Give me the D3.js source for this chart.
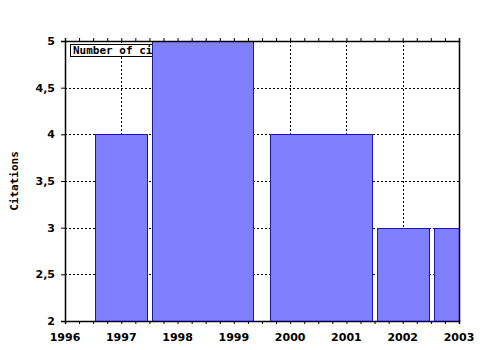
<!DOCTYPE html>
<html>
<head>
<meta charset="utf-8">
<script src="https://cdn.jsdelivr.net/npm/d3@7"></script>
<style>
	body { margin: 0; background: #fff; }
	svg { display: block; }
	.tick-label { font-family: "DejaVu Sans", Verdana, sans-serif; font-weight: bold; font-size: 11px; }
	.mono { font-family: "DejaVu Sans Mono", monospace; font-weight: bold; font-size: 11px; }
</style>
</head>
<body>
<script>
// citations per bin (bins, in years)
const binStart = [1996.53, 1997.55, 1999.64, 2001.54, 2002.555];
const binEnd = [1997.45, 1999.34, 2001.46, 2002.47, 2003.45];
const citations = [4, 5, 4, 3, 3];

const xTicks = [1996, 1997, 1998, 1999, 2000, 2001, 2002, 2003];
const yTicks = [2, 2.5, 3, 3.5, 4, 4.5, 5];
const legendText = "Number of citations";

const W = 480, H = 350;
const plot = { left: 65, right: 459, top: 41, bottom: 321 };

const svg = d3.select('body').append('svg')
	.attr('width', W)
	.attr('height', H);

const x = d3.scaleLinear().domain([1996, 2003]).range([plot.left, plot.right]);
const y = d3.scaleLinear().domain([2, 5]).range([plot.bottom, plot.top]);

svg.append('clipPath').attr('id', 'plotClip')
	.append('rect')
	.attr('x', plot.left).attr('y', plot.top)
	.attr('width', plot.right - plot.left)
	.attr('height', plot.bottom - plot.top);

/* dotted grid */
const grid = svg.append('g')
	.attr('stroke', '#000')
	.attr('stroke-width', 1)
	.attr('stroke-dasharray', '2,2');
grid.selectAll('line.gx')
	.data(xTicks.slice(1, -1))
	.enter().append('line')
	.attr('x1', d => Math.round(x(d)) + 0.5).attr('x2', d => Math.round(x(d)) + 0.5)
	.attr('y1', plot.top).attr('y2', plot.bottom);
grid.selectAll('line.gy')
	.data(yTicks.slice(1, -1))
	.enter().append('line')
	.attr('x1', plot.left).attr('x2', plot.right)
	.attr('y1', d => Math.round(y(d)) + 0.5).attr('y2', d => Math.round(y(d)) + 0.5);

/* legend box (bars are drawn over it) */
const legend = svg.append('g');
legend.append('rect')
	.attr('x', 70.5).attr('y', 44.5)
	.attr('width', legendText.length * 6.62 + 6).attr('height', 12)
	.attr('fill', '#fff').attr('stroke', '#000');
legend.append('text')
	.attr('class', 'mono')
	.attr('x', 73).attr('y', 54)
	.text(legendText);

/* bars */
svg.append('g')
	.attr('clip-path', 'url(#plotClip)')
	.selectAll('rect')
	.data(citations)
	.enter().append('rect')
	.attr('x', (d, i) => Math.round(x(binStart[i])) + 0.5)
	.attr('width', (d, i) => Math.round(x(binEnd[i])) - Math.round(x(binStart[i])))
	.attr('y', d => Math.round(y(d)) + 0.5)
	.attr('height', d => Math.round(y(2)) - Math.round(y(d)))
	.attr('fill', '#8080ff')
	.attr('stroke', '#1a1aa0');

/* axes */
const minor = d3.range(1996, 2003.001, 0.25);

const axisBottomG = svg.append('g').attr('transform', `translate(0,${plot.bottom})`)
	.call(d3.axisBottom(x).tickValues(minor).tickSize(3).tickFormat(''));
const axisTopG = svg.append('g').attr('transform', `translate(0,${plot.top})`)
	.call(d3.axisTop(x).tickValues(minor).tickSize(3).tickFormat(''));
const axisLeftG = svg.append('g').attr('transform', `translate(${plot.left},0)`)
	.call(d3.axisLeft(y).tickValues(yTicks).tickSize(4).tickFormat(''));
svg.append('line')
	.attr('x1', plot.right + 0.5).attr('x2', plot.right + 0.5)
	.attr('y1', plot.top).attr('y2', plot.bottom + 1)
	.attr('stroke', '#000').attr('stroke-width', 1.5);

[axisBottomG, axisTopG, axisLeftG].forEach(g => {
	g.selectAll('path.domain').attr('stroke', '#000').attr('stroke-width', 1.5);
	g.selectAll('.tick line').attr('stroke', '#000');
});

svg.append('g').selectAll('text')
	.data(xTicks)
	.enter().append('text')
	.attr('class', 'tick-label')
	.attr('x', d => x(d))
	.attr('y', 341)
	.attr('text-anchor', 'middle')
	.text(d => d);

const fmt = d => String(d).replace('.', ',');
svg.append('g').selectAll('text')
	.data(yTicks)
	.enter().append('text')
	.attr('class', 'tick-label')
	.attr('x', 55)
	.attr('y', d => y(d) + 4)
	.attr('text-anchor', 'end')
	.text(fmt);

svg.append('text')
	.attr('class', 'mono')
	.attr('transform', 'translate(18,181) rotate(-90)')
	.attr('text-anchor', 'middle')
	.text('Citations');
</script>
</body>
</html>
